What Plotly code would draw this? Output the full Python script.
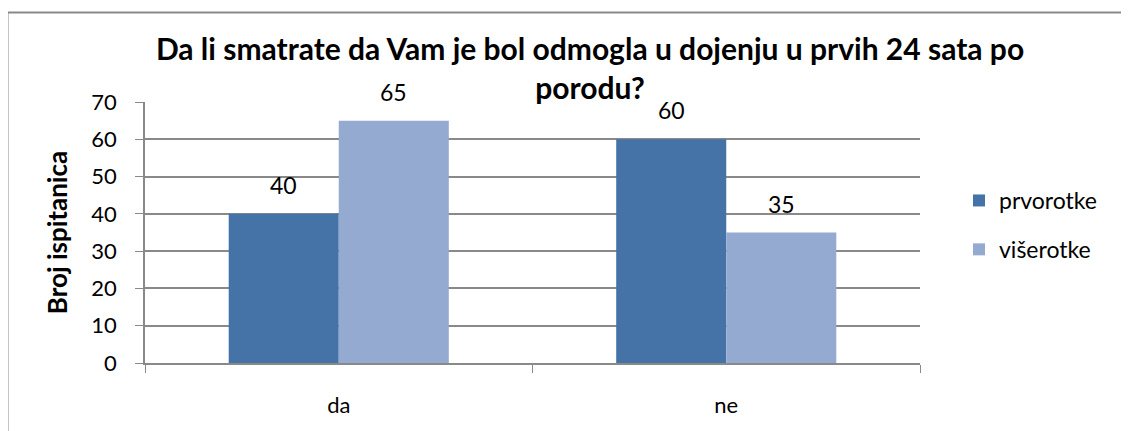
import plotly.graph_objects as go

categories = ["da", "ne"]
series_names = ["prvorotke", "višerotke"]
prvorotke = [40, 60]
viserotke = [65, 35]
y_ticks = [0, 10, 20, 30, 40, 50, 60, 70]
title_text = "Da li smatrate da Vam je bol odmogla u dojenju u prvih 24 sata po<br>porodu?"
y_title = "Broj ispitanica"

colors = ["#4573A7", "#95AAD1"]
FONT = "Lato"

# the page body has an 8px default margin; screen coords are converted to figure coords
OFF = 8
W, H = 1129, 431
L, T = 145 - OFF, 102 - OFF
pw, ph = 775, 261
R = W - L - pw
B = H - T - ph


def px_x(X):
    return (X - OFF - L) / pw


def px_y(Y):
    return (H - B - (Y - OFF)) / ph


fig = go.Figure()
for i, (name, vals) in enumerate(zip(series_names, [prvorotke, viserotke])):
    fig.add_trace(go.Bar(
        x=categories, y=vals, name=name,
        marker=dict(color=colors[i], line=dict(width=0)),
        legendgroup=name,
    ))
    for c, v in zip(categories, vals):
        fig.add_annotation(x=c, y=v, text=str(v), showarrow=False, xref="x", yref="y",
                           xshift=(-55 if i == 0 else 55), yanchor="bottom", yshift=13,
                           font=dict(family=FONT, size=23, color="#000"))

fig.add_shape(type="rect", xref="paper", yref="paper",
              x0=px_x(7.5), x1=px_x(1145), y0=px_y(445), y1=px_y(12.5),
              line=dict(color="#898989", width=2), fillcolor="rgba(0,0,0,0)", layer="below")

fig.update_layout(
    width=W, height=H,
    margin=dict(l=L, r=R, t=T, b=B, autoexpand=False),
    paper_bgcolor="white", plot_bgcolor="white",
    barmode="group", bargap=0.432, bargroupgap=0,
    title=dict(text=title_text, x=px_x(590), xanchor="center", xref="paper",
               y=1 - (60 - OFF) / H, yanchor="middle",
               font=dict(family=FONT, size=30, color="#000", weight="bold")),
    font=dict(family=FONT, size=22, color="#000"),
    legend=dict(x=px_x(959), xanchor="left", y=px_y(179), yanchor="top",
                font=dict(family=FONT, size=23), tracegroupgap=16, itemclick=False,
                bgcolor="rgba(0,0,0,0)"),
    showlegend=True,
)
fig.update_xaxes(
    showline=True, linecolor="#898989", linewidth=1.5, ticks="outside", tickson="boundaries",
    ticklen=8, tickcolor="#898989", tickfont=dict(family=FONT, size=22),
    ticklabelstandoff=22, showgrid=False,
)
fig.update_yaxes(
    range=[0, 70], tickvals=y_ticks, showline=True, linecolor="#898989", linewidth=1.5,
    ticks="outside", ticklen=8, tickcolor="#898989", showgrid=True, gridcolor="#898989",
    gridwidth=1.5, tickfont=dict(family=FONT, size=22), ticklabelstandoff=14,
    title=dict(text=y_title, font=dict(family=FONT, size=26, weight="bold"), standoff=16),
    zeroline=False,
)

fig.write_html("out.html")
